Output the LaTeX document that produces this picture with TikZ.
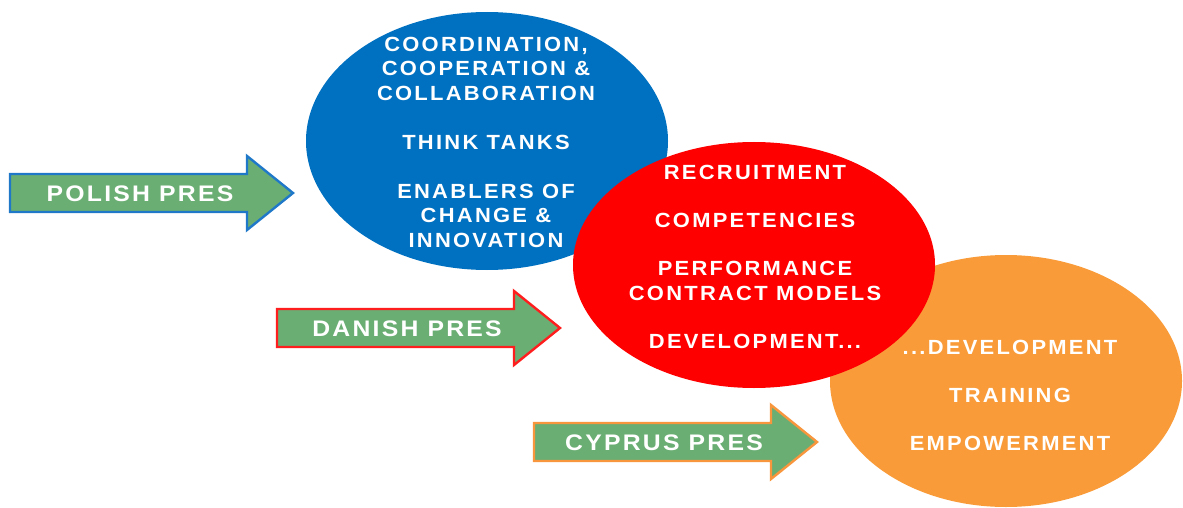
\documentclass[tikz,border=0pt]{standalone}
\usepackage{fontspec}
\setmainfont{Liberation Sans}
\newfontfamily\bubblefont[LetterSpace=11,FakeStretch=1.07]{Liberation Sans Bold}
\newfontfamily\tagfont[LetterSpace=10,FakeStretch=1.1]{Liberation Sans Bold}
\usetikzlibrary{shapes.geometric}

\definecolor{circblue}{HTML}{0070C0}
\definecolor{circred}{HTML}{FF0000}
\definecolor{circorange}{HTML}{F99B38}
\definecolor{arrowgreen}{HTML}{6BAE74}
\definecolor{edgeblue}{HTML}{1F78C8}
\definecolor{edgered}{HTML}{FF1E1E}
\definecolor{edgeorange}{HTML}{F7963C}

\tikzset{
  bubble/.style={ellipse, draw=none, inner sep=0pt},
  bubbletext/.style={text=white, align=center, inner sep=0pt,
    font=\bubblefont\fontsize{20.5}{24.5}\selectfont},
  arrowbody/.style={fill=arrowgreen, line width=2.4pt, line join=miter},
  arrowtext/.style={text=white, inner sep=0pt,
    font=\tagfont\fontsize{22.5}{26}\selectfont},
}

% block arrow: name, left x, centre y, outline colour, label
\newcommand\presarrow[5]{%
  \draw[arrowbody, draw=#4] (#2,#3-19) -- ++(237,0) -- ++(0,-18) -- ++(46,37)
    -- ++(-46,37) -- ++(0,-18) -- ++(-237,0) -- cycle;
  \node[arrowtext] (#1) at (#2+130,#3+1) {#5};
}

\begin{document}
\begin{tikzpicture}[x=1pt,y=-1pt]
  \useasboundingbox (0,0) rectangle (1183,508);

  % three overlapping presidency bubbles
  \node[bubble, fill=circblue, minimum width=362pt, minimum height=258pt] (blue) at (487,141) {};
  \node[bubble, fill=circorange, minimum width=352pt, minimum height=252pt] (orange) at (1006,381) {};
  \node[bubble, fill=circred, minimum width=362pt, minimum height=246pt] (red) at (754,265) {};

  \node[bubbletext] (bluetext) at (486,142) {COORDINATION,\\COOPERATION \&\\COLLABORATION\\[24.5pt]THINK TANKS\\[24.5pt]ENABLERS OF\\CHANGE \&\\INNOVATION};
  \node[bubbletext] (redtext) at (755,257) {RECRUITMENT\\[23.5pt]COMPETENCIES\\[23.5pt]PERFORMANCE\\CONTRACT MODELS\\[24pt]DEVELOPMENT...};
  \node[bubbletext] (orangetext) at (1010,395) {...DEVELOPMENT\\[23.5pt]TRAINING\\[23.5pt]EMPOWERMENT};

  % presidency arrows
  \presarrow{polish}{10}{193}{edgeblue}{POLISH PRES}
  \presarrow{danish}{277}{328}{edgered}{DANISH PRES}
  \presarrow{cyprus}{534}{442}{edgeorange}{CYPRUS PRES}
\end{tikzpicture}
\end{document}
